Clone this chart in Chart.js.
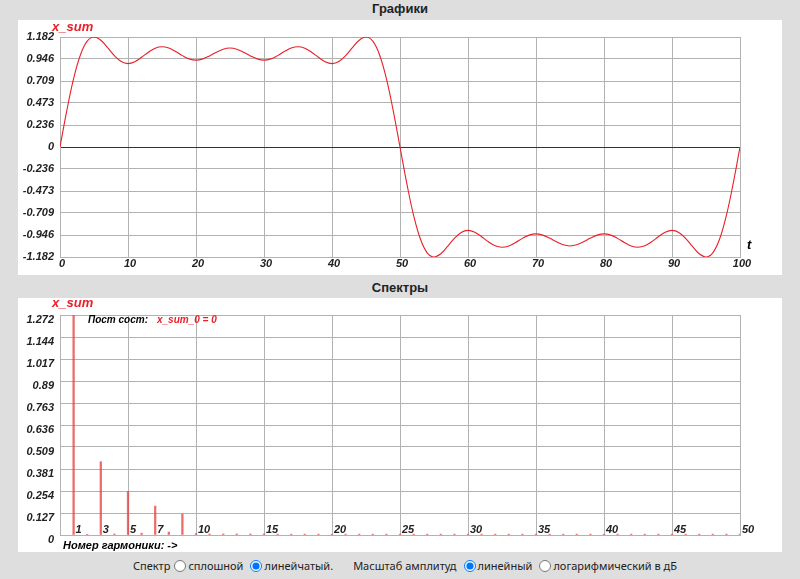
<!DOCTYPE html>
<html>
<head>
<meta charset="utf-8">
<script src="https://cdn.jsdelivr.net/npm/chart.js@4/dist/chart.umd.min.js"></script>
<style>
  body { margin: 0; width: 800px; height: 579px; background: #dedede; position: relative; overflow: hidden;
         font-family: "Liberation Sans", Arial, sans-serif; }
  .title { position: absolute; left: 0; width: 800px; text-align: center; font: bold 13px "Liberation Sans", Arial, sans-serif; color: #222; }
  .panel { position: absolute; left: 18px; width: 764px; background: #fff; }
  .panel canvas { position: absolute; left: 0; top: 0; }
  .lbl { position: absolute; font: italic bold 13px "Liberation Sans", Arial, sans-serif; line-height: 14px; white-space: nowrap; }
  .small { font-size: 11px; }
  .tiny { font-size: 10px; }
  .red { color: #e8202a; }
  .controls { position: absolute; left: 133px; top: 558px; white-space: nowrap; font: 11px "Noto Sans", sans-serif; color: #222; }
  .controls input { width: 12px; height: 12px; vertical-align: -2px; margin: 0 2px 0 4px; }
  .controls .gap { display: inline-block; width: 20px; }
</style>
</head>
<body>
<div class="title" style="top:1px">Графики</div>
<div class="panel" style="top:20px;height:255px">
  <canvas id="sig" width="764" height="255"></canvas>
  <span class="lbl red" style="left:34px;top:0px">x_sum</span>
  <span class="lbl" style="left:729px;top:218px">t</span>
</div>
<div class="title" style="top:280px">Спектры</div>
<div class="panel" style="top:298px;height:254px">
  <canvas id="spec" width="764" height="254"></canvas>
  <span class="lbl red" style="left:34px;top:-2px">x_sum</span>
  <span class="lbl tiny" style="left:70px;top:15px">Пост сост:</span>
  <span class="lbl tiny red" style="left:139px;top:15px">x_sum_0 = 0</span>
  <span class="lbl small" style="left:45px;top:240px">Номер гармоники: -&gt;</span>
</div>
<div class="controls">Спектр<input type="radio" name="sp">сплошной<input type="radio" name="sp" checked style="margin-left:7px">линейчатый.<span class="gap"></span>Масштаб амплитуд<input type="radio" name="sc" checked style="margin-left:7px">линейный<input type="radio" name="sc" style="margin-left:7px">логарифмический в дБ</div>
<script>
// signal x_sum, sampled at t = 0, 1, ... 100
const tStep = 1;
const xSum = [
  0, 0.391, 0.734, 0.989, 1.137, 1.182, 1.147, 1.068, 0.981, 0.918, 0.896, 0.916, 0.964, 1.019, 1.062,
  1.077, 1.063, 1.026, 0.982, 0.947, 0.934, 0.947, 0.979, 1.019, 1.051, 1.063, 1.051, 1.019, 0.979, 0.947,
  0.934, 0.947, 0.982, 1.026, 1.063, 1.077, 1.062, 1.019, 0.964, 0.916, 0.896, 0.918, 0.981, 1.068, 1.147,
  1.182, 1.137, 0.989, 0.734, 0.391, 0,
  -0.391, -0.734, -0.989, -1.137, -1.182, -1.147, -1.068, -0.981, -0.918, -0.896, -0.916, -0.964, -1.019,
  -1.062, -1.077, -1.063, -1.026, -0.982, -0.947, -0.934, -0.947, -0.979, -1.019, -1.051, -1.063, -1.051,
  -1.019, -0.979, -0.947, -0.934, -0.947, -0.982, -1.026, -1.063, -1.077, -1.062, -1.019, -0.964, -0.916,
  -0.896, -0.918, -0.981, -1.068, -1.147, -1.182, -1.137, -0.989, -0.734, -0.391, 0
];
const sigYTicks = [-1.182, -0.946, -0.709, -0.473, -0.236, 0, 0.236, 0.473, 0.709, 0.946, 1.182];

// spectrum: harmonic numbers 1..50 and their amplitudes
const harmonics = [
  1, 2, 3, 4, 5, 6, 7, 8, 9, 10, 11, 12, 13, 14, 15, 16, 17, 18, 19, 20, 21, 22, 23, 24, 25,
  26, 27, 28, 29, 30, 31, 32, 33, 34, 35, 36, 37, 38, 39, 40, 41, 42, 43, 44, 45, 46, 47, 48, 49, 50
];
const amps = [
  1.272, 0.004, 0.424, 0.006, 0.252, 0.010, 0.167, 0.017, 0.121, 0.008, 0.006, 0.006, 0.006, 0.006, 0.006,
  0.005, 0.005, 0.005, 0.005, 0.005, 0.005, 0.005, 0.005, 0.005, 0.005, 0.005, 0.005, 0.005, 0.005, 0.005,
  0.005, 0.005, 0.005, 0.005, 0.005, 0.005, 0.005, 0.005, 0.005, 0.005, 0.005, 0.005, 0.005, 0.005, 0.005,
  0.005, 0.005, 0.005, 0.005, 0.005
];
const specYTicks = [0, 0.127, 0.254, 0.381, 0.509, 0.636, 0.763, 0.89, 1.017, 1.144, 1.272];
const specXLabels = [1, 3, 5, 7, 10, 15, 20, 25, 30, 35, 40, 45, 50];

const GRID = "#b2b2b2";
const tickFont = { family: "'Liberation Sans', Arial, sans-serif", size: 11, style: "italic", weight: "bold" };

// harmonic numbers are written inside the plot, just above the baseline
const innerXLabels = {
  id: "innerXLabels",
  afterDatasetsDraw(chart) {
    const x = chart.scales.x;
    const ctx = chart.ctx;
    ctx.save();
    ctx.font = "italic bold 11px 'Liberation Sans', Arial, sans-serif";
    ctx.fillStyle = "#222";
    ctx.textAlign = "left";
    ctx.textBaseline = "middle";
    specXLabels.forEach((v) => {
      ctx.fillText(String(v), x.getPixelForValue(v) + 2, x.top - 5);
    });
    ctx.restore();
  }
};

new Chart(document.getElementById("sig"), {
  type: "line",
  data: {
    datasets: [{
      data: xSum.map((v, i) => ({ x: i * tStep, y: v })),
      borderColor: "#e8202a",
      borderWidth: 1.1,
      pointRadius: 0,
      tension: 0.4,
      fill: false
    }]
  },
  options: {
    responsive: false,
    animation: false,
    layout: { padding: { top: 17, right: 42, bottom: 0, left: 0 } },
    plugins: { legend: { display: false }, tooltip: { enabled: false } },
    scales: {
      x: {
        type: "linear", min: 0, max: 100,
        afterFit: (s) => { s.height = 18; },
        ticks: { stepSize: 10, font: tickFont, color: "#222", padding: 0, labelOffset: 2, maxRotation: 0 },
        grid: { color: GRID, drawTicks: false },
        border: { color: GRID }
      },
      y: {
        min: -1.182, max: 1.182,
        afterFit: (s) => { s.width = 42; },
        afterBuildTicks: (s) => { s.ticks = sigYTicks.map((v) => ({ value: v })); },
        ticks: { font: tickFont, color: "#222", padding: 6, callback: (v) => String(v) },
        grid: { color: (c) => (c.tick && c.tick.value === 0 ? "#333" : GRID), drawTicks: false },
        border: { color: GRID }
      }
    }
  }
});

new Chart(document.getElementById("spec"), {
  type: "bar",
  data: {
    datasets: [{
      data: harmonics.map((h, i) => ({ x: h, y: amps[i] })),
      backgroundColor: "rgba(232,70,70,0.8)",
      barThickness: 1.6
    }]
  },
  options: {
    responsive: false,
    animation: false,
    layout: { padding: { top: 17, right: 42, bottom: 0, left: 0 } },
    plugins: { legend: { display: false }, tooltip: { enabled: false } },
    scales: {
      x: {
        type: "linear", min: 0, max: 50, offset: false,
        afterFit: (s) => { s.height = 17; },
        ticks: { stepSize: 5, display: false },
        grid: { color: GRID, drawTicks: false, offset: false },
        border: { color: GRID }
      },
      y: {
        min: 0, max: 1.272,
        afterFit: (s) => { s.width = 42; },
        afterBuildTicks: (s) => { s.ticks = specYTicks.map((v) => ({ value: v })); },
        ticks: { font: tickFont, color: "#222", padding: 6, labelOffset: 5, callback: (v) => String(v) },
        grid: { color: GRID, drawTicks: false },
        border: { color: GRID }
      }
    }
  },
  plugins: [innerXLabels]
});
</script>
</body>
</html>
